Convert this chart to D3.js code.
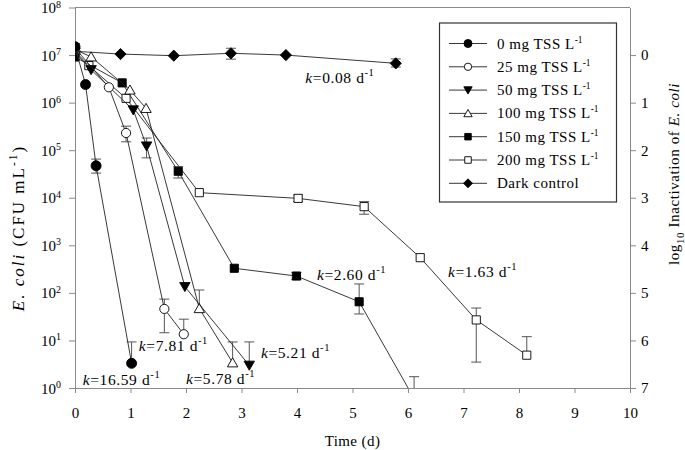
<!DOCTYPE html>
<html><head><meta charset="utf-8">
<script src="https://cdn.jsdelivr.net/npm/d3@7"></script>
<style>
body{margin:0;background:#fff}
svg{display:block;font-family:"Liberation Serif","Times New Roman",serif}
svg text{font-family:"Liberation Serif","Times New Roman",serif}
</style>
</head><body>
<svg id="c" width="685" height="450"></svg>
<script>
// ---------- data ----------
const xTicks = [0,1,2,3,4,5,6,7,8,9,10];
const yTicks = [1,10,100,1e3,1e4,1e5,1e6,1e7,1e8];
const yTickExp = ["0","1","2","3","4","5","6","7","8"];
const y2Ticks = [0,1,2,3,4,5,6,7];

const legendLabels = ["0 mg TSS L","25 mg TSS L","50 mg TSS L","100 mg TSS L","150 mg TSS L","200 mg TSS L","Dark control"];
const legendSup = ["-1","-1","-1","-1","-1","-1",""];
const markerTypes = ["circleFilled","circleOpen","triDownFilled","triUpOpen","squareFilled","squareOpen","diamondFilled"];

const t0mg   = [0, 0.19, 0.38, 1.02];
const cfu0mg = [1.5e7, 2.4e6, 4.7e4, 3.3];
const hi0mg  = [1.75e7, null, 6.5e4, 9.3];
const lo0mg  = [1.25e7, null, 3.3e4, null];

const t25    = [0, 0.61, 0.92, 1.61, 1.96];
const cfu25  = [1.4e7, 2.1e6, 2.3e5, 46, 13.5];
const hi25   = [null, null, 3.2e5, 74, 28];
const lo25   = [null, null, 1.5e5, 14.5, null];

const t50    = [0, 0.29, 1.05, 1.29, 1.98, 3.14];
const cfu50  = [1.15e7, 4.9e6, 7.0e5, 1.22e5, 135, 3.0];
const hi50   = [null, null, null, 1.8e5, null, 9.3];
const lo50   = [null, null, null, 6.9e4, null, null];

const t100   = [0, 0.29, 0.99, 1.28, 2.24, 2.84];
const cfu100 = [1.3e7, 9.2e6, 1.85e6, 7.6e5, 47, 3.4];
const hi100  = [null, null, null, null, 115, 9.3];
const lo100  = [null, null, null, null, null, null];

const t150   = [0, 0.85, 1.86, 2.87, 3.99, 5.12, 6.11];
const cfu150 = [9.1e6, 2.6e6, 3.6e4, 329, 226, 65, 0.6];
const hi150  = [null, null, 4.5e4, null, 268, 154, 1.73];
const lo150  = [null, null, 2.6e4, null, 191, 36, null];

const t200   = [0, 0.25, 0.92, 2.24, 4.02, 5.21, 6.22, 7.23, 8.14];
const cfu200 = [1.2e7, 6.0e6, 1.23e6, 1.28e4, 9.7e3, 6.5e3, 550, 27, 4.9];
const hi200  = [null, null, null, null, 1.14e4, 8.3e3, null, 48, 12];
const lo200  = [null, null, null, null, 8.3e3, 4.5e3, null, 3.5, null];

const tDark   = [0, 0.82, 1.78, 2.81, 3.80, 5.78];
const cfuDark = [1.2e7, 1.05e7, 9.7e6, 1.09e7, 1.0e7, 6.7e6];
const hiDark  = [null, null, null, 1.39e7, null, 8.3e6];
const loDark  = [null, null, null, 8.2e6, null, 5.6e6];

const kValues = ["16.59","7.81","5.78","5.21","2.60","1.63","0.08"];
const kX      = [0.14, 1.15, 2.0, 3.35, 4.36, 6.72, 4.15];
const kY      = [1.16, 6.0, 1.21, 4.3, 187, 216, 2.6e6];

// ---------- setup ----------
const svg = d3.select("#c");
const L=75, R=630, T=7.5, B=388;
const x  = d3.scaleLinear().domain([0,10]).range([L,R]);
const y  = d3.scaleLog().domain([1,1e8]).range([B,T]);
const y2 = d3.scaleLinear().domain([7,-1]).range([B,T]);
const axisCol = "#8a8a8a";
const FF = "Liberation Serif, Times New Roman, serif";

const series = [
  {t:t0mg, v:cfu0mg, hi:hi0mg, lo:lo0mg},
  {t:t25,  v:cfu25,  hi:hi25,  lo:lo25},
  {t:t50,  v:cfu50,  hi:hi50,  lo:lo50},
  {t:t100, v:cfu100, hi:hi100, lo:lo100},
  {t:t150, v:cfu150, hi:hi150, lo:lo150},
  {t:t200, v:cfu200, hi:hi200, lo:lo200},
  {t:tDark,v:cfuDark,hi:hiDark,lo:loDark}
].map((s,i)=>({...s, type:markerTypes[i]}));

function markerPath(type, s){
  const p = d3.path();
  if(type.startsWith("circle")){ p.arc(0,0,s,0,2*Math.PI); }
  else if(type.startsWith("triDown")){ p.moveTo(-s,-s*0.8); p.lineTo(s,-s*0.8); p.lineTo(0,s*0.95); p.closePath(); }
  else if(type.startsWith("triUp")){ p.moveTo(-s,s*0.8); p.lineTo(s,s*0.8); p.lineTo(0,-s*0.95); p.closePath(); }
  else if(type.startsWith("square")){ p.rect(-s*0.85,-s*0.85,s*1.7,s*1.7); }
  else if(type.startsWith("diamond")){ p.moveTo(0,-s); p.lineTo(s,0); p.lineTo(0,s); p.lineTo(-s,0); p.closePath(); }
  return p.toString();
}
const markerSize = {circleFilled:5, circleOpen:4.6, triDownFilled:5.2, triUpOpen:5.2, squareFilled:4.8, squareOpen:4.8, diamondFilled:5.6};
function isFilled(type){ return type.endsWith("Filled"); }

svg.append("defs").append("clipPath").attr("id","clip")
  .append("rect").attr("x",L).attr("y",T).attr("width",R-L).attr("height",B-T);

// ---------- axes ----------
svg.append("line").attr("x1",L).attr("x2",R).attr("y1",T).attr("y2",T).attr("stroke",axisCol).attr("stroke-width",1);

const gx = svg.append("g").attr("transform",`translate(0,${B})`)
  .call(d3.axisBottom(x).tickValues(xTicks).tickSize(5).tickSizeOuter(0).tickPadding(14));
const gy = svg.append("g").attr("transform",`translate(${L},0)`)
  .call(d3.axisLeft(y).tickValues(yTicks).tickSize(6).tickSizeOuter(0).tickFormat(""));
const gy2 = svg.append("g").attr("transform",`translate(${R},0)`)
  .call(d3.axisRight(y2).tickValues(y2Ticks).tickSize(6).tickSizeOuter(0).tickPadding(5));
[gx,gy,gy2].forEach(g=>{
  g.attr("font-family",FF);
  g.select(".domain").attr("stroke",axisCol);
  g.selectAll(".tick line").attr("stroke",axisCol);
  g.selectAll("text").attr("fill","#000").attr("font-size",15).attr("font-family",FF);
});

// left tick labels with superscripts
yTicks.forEach((v,i)=>{
  const tx = svg.append("text").attr("x",61).attr("y",y(v)+5.5)
    .attr("text-anchor","end").attr("font-size",15).attr("font-family",FF).attr("fill","#000");
  tx.append("tspan").text("10");
  tx.append("tspan").attr("font-size",10).attr("dy",-5.5).text(yTickExp[i]);
});

// axis titles
svg.append("text").attr("x",(L+R)/2).attr("y",446).attr("text-anchor","middle")
  .attr("font-size",15).attr("font-family",FF).attr("letter-spacing",0.4).text("Time (d)");

const lt = svg.append("text").attr("transform","translate(24,228) rotate(-90)")
  .attr("text-anchor","middle").attr("font-size",17).attr("font-family",FF)
  .attr("letter-spacing",2);
lt.append("tspan").attr("font-style","italic").text("E. coli");
lt.append("tspan").text(" (CFU mL");
lt.append("tspan").attr("font-size",11.5).attr("dy",-7).text("-1");
lt.append("tspan").attr("dy",7).text(")");

const rt = svg.append("text").attr("transform","translate(679,174) rotate(-90)")
  .attr("text-anchor","middle").attr("font-size",15).attr("font-family",FF)
  .attr("letter-spacing",0.6);
rt.append("tspan").text("log");
rt.append("tspan").attr("font-size",11).attr("dy",5).text("10");
rt.append("tspan").attr("dy",-5).text(" Inactivation of ");
rt.append("tspan").attr("font-style","italic").text("E. coli");

// ---------- data ----------
const plot = svg.append("g").attr("clip-path","url(#clip)");
const line = d3.line().x(d=>x(d.t)).y(d=>y(d.v));
const drawOrder = [6,5,4,3,2,1,0];
drawOrder.forEach(si=>{
  const s = series[si];
  const pts = s.t.map((t,i)=>({t, v:s.v[i], hi:s.hi[i], lo:s.lo[i]}));
  const g = plot.append("g");
  pts.forEach(p=>{
    if(p.hi==null && p.lo==null) return;
    const top = p.hi!=null ? y(p.hi) : y(p.v);
    const bot = p.lo!=null ? y(p.lo) : y(p.v);
    const cx = x(p.t);
    g.append("line").attr("x1",cx).attr("x2",cx).attr("y1",top).attr("y2",bot).attr("stroke","#555").attr("stroke-width",1);
    if(p.hi!=null) g.append("line").attr("x1",cx-5).attr("x2",cx+5).attr("y1",top).attr("y2",top).attr("stroke","#555").attr("stroke-width",1);
    if(p.lo!=null) g.append("line").attr("x1",cx-5).attr("x2",cx+5).attr("y1",bot).attr("y2",bot).attr("stroke","#555").attr("stroke-width",1);
  });
  g.append("path").datum(pts).attr("d",line).attr("fill","none").attr("stroke","#222").attr("stroke-width",0.9);
  g.selectAll(".m").data(pts).join("path").attr("class","m")
    .attr("transform",d=>`translate(${x(d.t)},${y(d.v)})`)
    .attr("d",markerPath(s.type, markerSize[s.type]))
    .attr("fill",isFilled(s.type)?"#000":"#fff")
    .attr("stroke","#000").attr("stroke-width",0.9);
});

// k annotations
kValues.forEach((k,i)=>{
  const tx = svg.append("text").attr("x",x(kX[i])).attr("y",y(kY[i]))
    .attr("font-size",15.5).attr("font-family",FF).attr("letter-spacing",0.6).attr("fill","#000");
  tx.append("tspan").attr("font-style","italic").text("k");
  tx.append("tspan").text("=" + k + " d");
  tx.append("tspan").attr("font-size",10.5).attr("dy",-7).text("-1");
});

// ---------- legend ----------
const lg = svg.append("g");
lg.append("rect").attr("x",439.5).attr("y",23).attr("width",177).attr("height",179)
  .attr("fill","#fff").attr("stroke","#333").attr("stroke-width",1.2);
legendLabels.forEach((lab,i)=>{
  const cy = 43.5 + i*23.3;
  lg.append("line").attr("x1",449).attr("x2",487).attr("y1",cy).attr("y2",cy).attr("stroke","#222").attr("stroke-width",0.9);
  const type = markerTypes[i];
  lg.append("path").attr("transform",`translate(468,${cy})`)
    .attr("d",markerPath(type, markerSize[type]*0.8))
    .attr("fill",isFilled(type)?"#000":"#fff").attr("stroke","#000").attr("stroke-width",0.9);
  const tx = lg.append("text").attr("x",497).attr("y",cy+5).attr("font-size",15).attr("font-family",FF).attr("letter-spacing",0.5).attr("fill","#000");
  tx.append("tspan").text(lab);
  if(legendSup[i]) tx.append("tspan").attr("font-size",9.5).attr("dy",-6).attr("letter-spacing",0).text(legendSup[i]);
});
</script>
</body></html>
